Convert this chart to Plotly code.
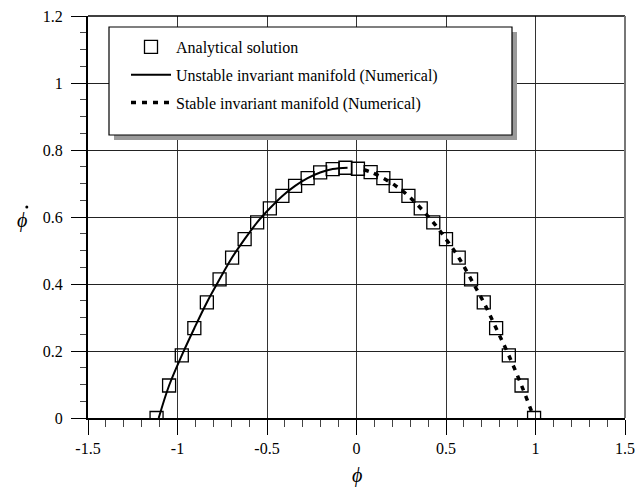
import plotly.graph_objects as go

# Analytical solution (squares)
phi_analytical = [-1.117, -1.047, -0.976, -0.906, -0.836, -0.765, -0.695, -0.625,
                  -0.555, -0.484, -0.414, -0.343, -0.273, -0.203, -0.133, -0.062,
                  0.008, 0.079, 0.150, 0.219, 0.290, 0.359, 0.429, 0.500,
                  0.571, 0.640, 0.711, 0.780, 0.851, 0.922, 0.992]
phidot_analytical = [0.000, 0.097, 0.187, 0.268, 0.345, 0.414, 0.479, 0.534,
                     0.584, 0.626, 0.663, 0.693, 0.716, 0.733, 0.743, 0.747,
                     0.744, 0.734, 0.716, 0.693, 0.663, 0.626, 0.584, 0.534,
                     0.479, 0.414, 0.345, 0.268, 0.187, 0.097, 0.000]

# Unstable invariant manifold (numerical)
phi_unstable = [-1.105, -1.047, -0.976, -0.906, -0.836, -0.765, -0.695, -0.625,
                -0.555, -0.484, -0.414, -0.343, -0.273, -0.203, -0.133, -0.050]
phidot_unstable = [0.000, 0.097, 0.187, 0.268, 0.345, 0.414, 0.479, 0.534,
                   0.584, 0.626, 0.663, 0.693, 0.716, 0.733, 0.743, 0.747]

# Stable invariant manifold (numerical)
phi_stable = [0.040, 0.079, 0.150, 0.219, 0.290, 0.359, 0.429, 0.500,
              0.571, 0.640, 0.711, 0.780, 0.851, 0.922, 0.985]
phidot_stable = [0.741, 0.734, 0.716, 0.693, 0.663, 0.626, 0.584, 0.534,
                 0.479, 0.414, 0.345, 0.268, 0.187, 0.097, 0.010]

x_tickvals = [-1.5, -1, -0.5, 0, 0.5, 1, 1.5]
x_ticktext = ["-1.5", "-1", "-0.5", "0", "0.5", "1", "1.5"]
y_tickvals = [0, 0.2, 0.4, 0.6, 0.8, 1, 1.2]
y_ticktext = ["0", "0.2", "0.4", "0.6", "0.8", "1", "1.2"]

FONT = "Liberation Serif"

fig = go.Figure()
fig.add_trace(go.Scatter(
    x=phi_analytical, y=phidot_analytical, mode="markers",
    name="Analytical solution", legendgroup="a",
    marker=dict(symbol="square-open", size=13, color="black",
                line=dict(width=1.3, color="black"))))
fig.add_trace(go.Scatter(
    x=phi_unstable, y=phidot_unstable, mode="lines", line_shape="spline",
    name="Unstable invariant manifold (Numerical)", legendgroup="b",
    line=dict(color="black", width=2)))
fig.add_trace(go.Scatter(
    x=phi_stable, y=phidot_stable, mode="lines", line_shape="spline",
    name="Stable invariant manifold (Numerical)", legendgroup="c",
    line=dict(color="black", width=3.5, dash="5px,6px")))

# page has an 8px body margin: compensate so the plot area lands at
# x 88..625 and y 16..418 in the 644x488 window
OFF = 8
W, H = 644 - OFF, 488 - OFF
L, R, T, B = 88 - OFF, 19, 16 - OFF, 70
pw, ph = W - L - R, H - T - B


def px(xpix):
    return (xpix - OFF - L) / pw


def py(ypix):
    return (H - B - (ypix - OFF)) / ph


shapes = [
    # legend shadow
    dict(type="rect", xref="paper", yref="paper", layer="above",
         x0=px(114), x1=px(517), y0=py(140), y1=py(32),
         fillcolor="#9a9a9a", line=dict(width=0)),
    # legend box
    dict(type="rect", xref="paper", yref="paper", layer="above",
         x0=px(109), x1=px(512), y0=py(135), y1=py(27),
         fillcolor="white", line=dict(color="black", width=1.2)),
    # top frame
    dict(type="line", xref="paper", yref="paper", layer="above",
         x0=0, x1=1, y0=1, y1=1, line=dict(color="black", width=1.5)),
    # right frame
    dict(type="line", xref="paper", yref="paper", layer="above",
         x0=1, x1=1, y0=0, y1=1, line=dict(color="#777", width=2)),
    # dot of the y-axis symbol (phi-dot)
    dict(type="circle", xref="paper", yref="paper", layer="above",
         x0=px(25.3), x1=px(28.3), y0=py(208.5), y1=py(205.5),
         fillcolor="black", line=dict(width=0)),
]

fig.update_layout(
    width=W, height=H,
    margin=dict(l=L, r=R, t=T, b=B, autoexpand=False),
    paper_bgcolor="white", plot_bgcolor="white",
    font=dict(family=FONT, size=16, color="black"),
    shapes=shapes,
    showlegend=True,
    legend=dict(x=px(126), y=py(30), xanchor="left", yanchor="top",
                bgcolor="rgba(0,0,0,0)", borderwidth=0,
                font=dict(family=FONT, size=16, color="black"),
                tracegroupgap=4, itemwidth=40),
    xaxis=dict(range=[-1.5, 1.5], tickvals=x_tickvals, ticktext=x_ticktext,
               showgrid=True, gridcolor="#333", gridwidth=1,
               zeroline=False, showline=True, linecolor="black", linewidth=2,
               ticks="outside", ticklen=15, tickwidth=1, tickcolor="black",
               ticklabeloverflow="allow",
               minor=dict(dtick=0.1, ticks="outside", ticklen=7, tickwidth=1,
                          tickcolor="#444", showgrid=False),
               tickfont=dict(family=FONT, size=16)),
    yaxis=dict(range=[0, 1.2], tickvals=y_tickvals, ticktext=y_ticktext,
               showgrid=True, gridcolor="#222", gridwidth=1,
               zeroline=False, showline=True, linecolor="black", linewidth=2,
               ticks="outside", ticklen=15, tickwidth=1, tickcolor="black",
               ticklabelstandoff=5, ticklabeloverflow="allow",
               minor=dict(dtick=0.05, ticks="outside", ticklen=6, tickwidth=1,
                          tickcolor="#444", showgrid=False),
               tickfont=dict(family=FONT, size=16)),
    annotations=[
        dict(text="<i>ϕ</i>", xref="paper", yref="paper",
             x=px(22), y=py(221), xanchor="center", yanchor="middle",
             showarrow=False, font=dict(family=FONT, size=20)),
        dict(text="<i>ϕ</i>", xref="paper", yref="paper",
             x=px(357), y=py(475), xanchor="center", yanchor="middle",
             showarrow=False, font=dict(family=FONT, size=20)),
    ],
)

fig.write_html("out.html")
